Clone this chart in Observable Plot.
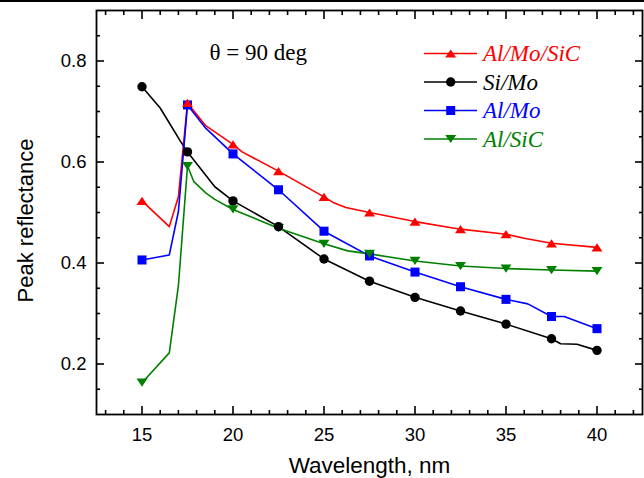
<!DOCTYPE html>
<html><head><meta charset="utf-8">
<script src="https://cdn.jsdelivr.net/npm/d3@7"></script>
<script src="https://cdn.jsdelivr.net/npm/@observablehq/plot@0.6"></script>
<style>
body{margin:0;background:#fff;}
#wrap{position:relative;width:644px;height:478px;overflow:hidden;background:#fff;}
#topline{position:absolute;left:0;top:0;width:644px;height:2px;background:#000;}
#overlay{position:absolute;left:0;top:0;}
</style></head><body>
<div id="wrap"><div id="chart"></div><div id="topline"></div><svg id="overlay" width="644" height="478"></svg></div>
<script>
// ---- data ----
const wavelengths = [15, 17.5, 20, 22.5, 25, 27.5, 30, 32.5, 35, 37.5, 40];
const alMoSiC = [0.523, 0.717, 0.635, 0.582, 0.531, 0.500, 0.482, 0.467, 0.457, 0.439, 0.431];
const siMo    = [0.749, 0.620, 0.523, 0.472, 0.408, 0.364, 0.332, 0.305, 0.279, 0.250, 0.227];
const alMo    = [0.406, 0.713, 0.616, 0.545, 0.463, 0.414, 0.382, 0.353, 0.328, 0.294, 0.270];
const alSiC   = [0.163, 0.592, 0.506, 0.469, 0.438, 0.418, 0.404, 0.394, 0.389, 0.386, 0.384];

// connecting curves
const alMoSiCLine = [[15,0.523],[16.5,0.472],[17.0,0.531],[17.5,0.717],[18.5,0.672],[20,0.635],[20.5,0.620],[22.5,0.582],[25,0.531],[25.5,0.520],[26.2,0.510],[27.5,0.500],[30,0.482],[32.5,0.467],[35,0.457],[36,0.449],[37.5,0.439],[40,0.431]];
const siMoLine    = [[15,0.749],[16.0,0.707],[17.15,0.639],[17.5,0.620],[19.0,0.551],[20,0.523],[22.5,0.472],[25,0.408],[27.5,0.364],[30,0.332],[32.5,0.305],[35,0.279],[37.5,0.250],[38.0,0.240],[38.9,0.239],[40,0.227]];
const alMoLine    = [[15,0.406],[16.5,0.416],[17.0,0.502],[17.5,0.713],[18.5,0.667],[20,0.616],[22.5,0.545],[25,0.463],[27.5,0.414],[30,0.382],[32.5,0.353],[35,0.328],[36.2,0.319],[37.5,0.294],[38.2,0.294],[40,0.270]];
const alSiCLine   = [[15,0.163],[16.5,0.222],[17.0,0.355],[17.5,0.592],[17.85,0.561],[18.5,0.539],[19.0,0.526],[20,0.506],[22.5,0.469],[25,0.438],[26.3,0.424],[27.5,0.418],[30,0.404],[32.5,0.394],[35,0.389],[37.5,0.386],[40,0.384]];

const seriesNames = ["Al/Mo/SiC", "Si/Mo", "Al/Mo", "Al/SiC"];
const seriesColors = ["#ff0000", "#000000", "#0000ff", "#008000"];

const xMajor = [15, 20, 25, 30, 35, 40];
const xMinor = [13,14,16,17,18,19,21,22,23,24,26,27,28,29,31,32,33,34,36,37,38,39,41,42];
const yMajor = [0.2, 0.4, 0.6, 0.8];
const yMinor = [0.15,0.25,0.3,0.35,0.45,0.5,0.55,0.65,0.7,0.75,0.85];

// ---- symbols ----
const triUp = {draw(ctx, size){ const r = Math.sqrt(size/Math.PI); const a = 1.3*r, h = 0.98*r; ctx.moveTo(0,-h); ctx.lineTo(a,h); ctx.lineTo(-a,h); ctx.closePath(); }};
const triDown = {draw(ctx, size){ const r = Math.sqrt(size/Math.PI); const a = 1.3*r, h = 0.98*r; ctx.moveTo(0,h); ctx.lineTo(a,-h); ctx.lineTo(-a,-h); ctx.closePath(); }};
const symbols = [triUp, "circle", "square", triDown];
const radii = [4.2, 4.7, 5.1, 4.2];

const valueSets = [alMoSiC, siMo, alMo, alSiC];
const lineSets = [alMoSiCLine, siMoLine, alMoLine, alSiCLine];

const series = seriesNames.map((name, i) => ({
  name, color: seriesColors[i], symbol: symbols[i], r: radii[i],
  points: wavelengths.map((w, j) => ({w, v: valueSets[i][j]})),
  line: lineSets[i].map(([w, v]) => ({w, v}))
}));

const lineMarks = series.map(s => Plot.line(s.line, {x: "w", y: "v", stroke: s.color, strokeWidth: 1.6}));
const drawOrder = [2, 3, 1, 0];
const dotMarks = drawOrder.map(i => {
  const s = series[i];
  return Plot.dot(s.points, {x: "w", y: "v", symbol: () => s.symbol, r: s.r, fill: s.color, stroke: "none"});
});

const blank = () => "";
const chart = Plot.plot({
  width: 644, height: 478,
  marginLeft: 96, marginRight: 2, marginTop: 10, marginBottom: 64,
  style: {fontFamily: "'Liberation Sans', Arial, sans-serif", fontSize: "18px", background: "white", color: "black"},
  x: {domain: [12.5, 42.5]},
  y: {domain: [0.1, 0.9]},
  symbol: {type: "identity"},
  marks: [
    Plot.axisX({anchor: "bottom", ticks: xMajor, tickSize: -8, tickPadding: 21, strokeWidth: 1.6, label: null, fontSize: 18.5}),
    Plot.axisX({anchor: "bottom", ticks: xMinor, tickSize: -4, tickFormat: blank, strokeWidth: 1.6, label: null}),
    Plot.axisX({anchor: "top", ticks: xMajor, tickSize: -8, tickFormat: blank, strokeWidth: 1.6, label: null}),
    Plot.axisX({anchor: "top", ticks: xMinor, tickSize: -4, tickFormat: blank, strokeWidth: 1.6, label: null}),
    Plot.axisY({anchor: "left", ticks: yMajor, tickSize: -8, tickPadding: 18, strokeWidth: 1.6, label: null, fontSize: 18.5}),
    Plot.axisY({anchor: "left", ticks: yMinor, tickSize: -4, tickFormat: blank, strokeWidth: 1.6, label: null}),
    Plot.axisY({anchor: "right", ticks: yMajor, tickSize: -8, tickFormat: blank, strokeWidth: 1.6, label: null}),
    Plot.axisY({anchor: "right", ticks: yMinor, tickSize: -4, tickFormat: blank, strokeWidth: 1.6, label: null}),
    ...lineMarks,
    ...dotMarks,
    Plot.frame({stroke: "black", strokeWidth: 1.8}),
    Plot.text(["Wavelength, nm"], {frameAnchor: "bottom", dy: 51, fontSize: 22.5, fill: "black", textAnchor: "middle", lineAnchor: "middle"}),
    Plot.text(["Peak reflectance"], {frameAnchor: "left", dx: -71, dy: 8, rotate: -90, fontSize: 22, fill: "black", textAnchor: "middle", lineAnchor: "middle"}),
    Plot.text(["\u03b8 = 90 deg"], {frameAnchor: "top-left", dx: 113, dy: 49.5, textAnchor: "start", lineAnchor: "bottom", fontSize: 23, fontFamily: "'Liberation Serif', 'Times New Roman', serif", fill: "black"})
  ]
});
document.getElementById("chart").appendChild(chart);

// ---- legend (overlay) ----
const ov = d3.select("#overlay");
const legendRows = [53.5, 82, 110.5, 139];
series.forEach((s, i) => {
  const g = ov.append("g").attr("transform", `translate(0,${legendRows[i]})`);
  g.append("line").attr("x1", 424).attr("x2", 477).attr("y1", 0).attr("y2", 0).attr("stroke", s.color).attr("stroke-width", 1.6);
  const sym = typeof s.symbol === "string" ? (s.symbol === "circle" ? d3.symbolCircle : d3.symbolSquare) : s.symbol;
  g.append("path").attr("d", d3.symbol(sym, Math.PI * s.r * s.r)()).attr("transform", "translate(450.7,0)").attr("fill", s.color);
  g.append("text").attr("x", 483).attr("y", 7.5).attr("fill", s.color)
    .attr("font-family", "'Liberation Serif', 'Times New Roman', serif").attr("font-style", "italic").attr("font-size", 23)
    .text(s.name);
});
</script></body></html>
